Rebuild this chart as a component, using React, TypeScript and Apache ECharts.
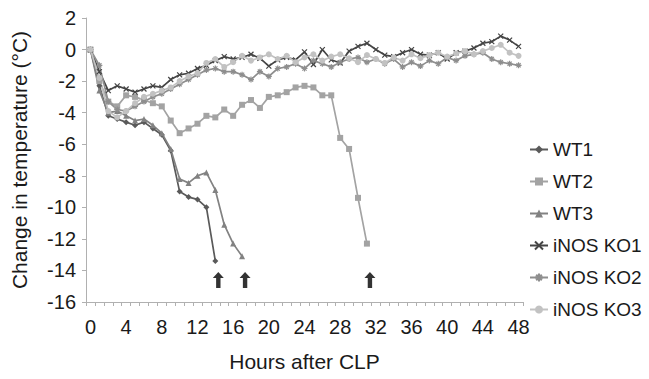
import React, { useEffect, useRef } from "react";
import * as echarts from "echarts";

// Hours after CLP (category axis, one category per hour)
const hours = [
  "0", "1", "2", "3", "4", "5", "6", "7", "8", "9", "10", "11", "12",
  "13", "14", "15", "16", "17", "18", "19", "20", "21", "22", "23", "24",
  "25", "26", "27", "28", "29", "30", "31", "32", "33", "34", "35", "36",
  "37", "38", "39", "40", "41", "42", "43", "44", "45", "46", "47", "48",
];

// Change in temperature (°C) per animal, hourly
const wt1 = [0, -2.3, -4.2, -4.4, -4.6, -4.8, -4.6, -5.0, -5.4, -6.4, -9.0, -9.35, -9.5, -10.0, -13.4];
const wt2 = [
  0, -2.0, -3.3, -3.6, -2.9, -3.0, -3.2, -3.4, -3.6, -4.5, -5.3, -5.0, -4.7, -4.2, -4.3, -3.8,
  -4.2, -3.5, -3.2, -3.7, -3.0, -2.9, -2.7, -2.4, -2.3, -2.4, -2.9, -2.9, -5.6, -6.3, -9.4, -12.3,
];
const wt3 = [0, -2.6, -4.0, -3.9, -4.2, -4.5, -4.4, -4.8, -5.3, -6.3, -8.2, -8.45, -8.0, -7.8, -8.9, -11.1, -12.3, -13.1];
const ko1 = [
  0, -1.4, -2.6, -2.3, -2.5, -2.7, -2.5, -2.3, -2.4, -1.9, -1.6, -1.5, -1.2, -1.0, -0.7, -0.45,
  -0.6, -0.5, -0.3, -0.55, -1.05, -0.65, -0.5, -0.65, -0.15, -0.95, 0.0, -0.65, -0.85, -0.1, 0.2,
  0.4, 0.0, -0.35, -0.45, -0.2, 0.0, -0.3, -0.35, -0.2, -0.6, -0.2, -0.1, 0.1, 0.4, 0.5, 0.85, 0.6, 0.2,
];
const ko2 = [
  0, -1.0, -3.3, -3.8, -3.9, -3.6, -3.3, -3.0, -2.8, -2.5, -2.2, -1.9, -1.6, -1.3, -1.2, -1.4,
  -1.4, -1.6, -1.9, -1.4, -1.7, -1.2, -1.1, -0.9, -1.2, -0.7, -0.9, -1.1, -0.8, -0.6, -0.5, -0.8,
  -0.6, -0.9, -0.6, -1.1, -0.8, -1.05, -0.7, -0.9, -0.5, -0.7, -0.4, -0.3, -0.2, -0.6, -0.8, -0.9, -1.0,
];
const ko3 = [
  0, -1.8, -3.9, -4.3, -3.9, -3.4, -3.0, -2.8, -2.6, -2.4, -2.0, -1.7, -1.5, -0.85, -0.6, -1.1,
  -0.8, -0.4, -0.7, -0.5, -0.3, -0.6, -0.4, -0.8, -0.5, -0.3, -0.7, -0.45, -0.3, -0.55, -0.8, -0.35,
  -0.6, -0.85, -0.5, -0.7, -0.3, -0.55, -0.35, -0.2, -0.45, -0.25, -0.1, -0.3, -0.1, 0.1, 0.3, -0.2, -0.4,
];

// Arrows marking the time of death of each WT animal
const deathHours = ["14", "17", "31"];
const arrowLevel = -14.6;

const yTicks = { min: -16, max: 2, interval: 2 };

const FONT = "Liberation Sans, Arial, Helvetica, sans-serif";
const TEXT = "#1a1a1a";

const CROSS = "path://M0,0L10,10M10,0L0,10";
const STAR = "path://M5,0L5,10M0,5L10,5M1.5,1.5L8.5,8.5M8.5,1.5L1.5,8.5";
const ARROW = "path://M5,0L10,6L7,6L7,16L3,16L3,6L0,6Z";

function lineSeries(
  name: string,
  data: number[],
  color: string,
  symbol: string,
  symbolSize: number,
  stroked = false
) {
  return {
    name,
    type: "line",
    data,
    symbol,
    symbolSize,
    showAllSymbol: true,
    lineStyle: { color, width: 1.7 },
    itemStyle: stroked
      ? { color: "rgba(0,0,0,0)", borderColor: color, borderWidth: 1.2 }
      : { color, borderWidth: 0 },
    emphasis: { disabled: true },
  };
}

export default function App() {
  const ref = useRef<HTMLDivElement>(null);

  useEffect(() => {
    document.body.style.margin = "0";
    if (!ref.current) return;
    const chart = echarts.init(ref.current, undefined, { renderer: "svg" });
    chart.setOption({
      animation: false,
      backgroundColor: "#ffffff",
      textStyle: { fontFamily: FONT },
      grid: { left: 86, right: 126, top: 18, bottom: 77 },
      legend: {
        orient: "vertical",
        left: 524,
        top: 135,
        itemGap: 13,
        itemWidth: 18,
        itemHeight: 10,
        data: ["WT1", "WT2", "WT3", "iNOS KO1", "iNOS KO2", "iNOS KO3"],
        textStyle: { fontSize: 19, color: TEXT, fontFamily: FONT },
      },
      xAxis: {
        type: "category",
        data: hours,
        boundaryGap: true,
        name: "Hours after CLP",
        nameLocation: "middle",
        nameGap: 49,
        nameTextStyle: { fontSize: 21, color: TEXT, fontFamily: FONT },
        axisLine: { onZero: false, lineStyle: { color: "#b0b0b0", width: 1 } },
        axisTick: { show: true, interval: 0, length: 4, lineStyle: { color: "#b0b0b0" } },
        axisLabel: { interval: 3, margin: 15, fontSize: 20, color: TEXT, fontFamily: FONT },
        splitLine: { show: false },
      },
      yAxis: {
        type: "value",
        min: yTicks.min,
        max: yTicks.max,
        interval: yTicks.interval,
        name: "Change in temperature (°C)",
        nameLocation: "middle",
        nameGap: 56,
        nameTextStyle: { fontSize: 21, color: TEXT, fontFamily: FONT },
        axisLine: { show: true, lineStyle: { color: "#b0b0b0", width: 1 } },
        axisTick: { show: true, length: 4, lineStyle: { color: "#b0b0b0" } },
        axisLabel: { margin: 10, fontSize: 20, color: TEXT, fontFamily: FONT },
        splitLine: { show: false },
      },
      series: [
        lineSeries("WT1", wt1, "#5a5a5a", "diamond", 6),
        lineSeries("WT2", wt2, "#a3a3a3", "rect", 6),
        lineSeries("WT3", wt3, "#828282", "triangle", 6),
        lineSeries("iNOS KO1", ko1, "#454545", CROSS, 5, true),
        lineSeries("iNOS KO2", ko2, "#8e8e8e", STAR, 6, true),
        lineSeries("iNOS KO3", ko3, "#c2c2c2", "circle", 6),
        {
          name: "arrows",
          type: "scatter",
          data: deathHours.map((h) => [h, arrowLevel]),
          symbol: ARROW,
          symbolSize: [11, 16],
          symbolOffset: [3, 0],
          itemStyle: { color: "#000000" },
          emphasis: { disabled: true },
          silent: true,
        },
      ],
    });
    return () => chart.dispose();
  }, []);

  return <div ref={ref} style={{ width: 649, height: 379 }} />;
}
